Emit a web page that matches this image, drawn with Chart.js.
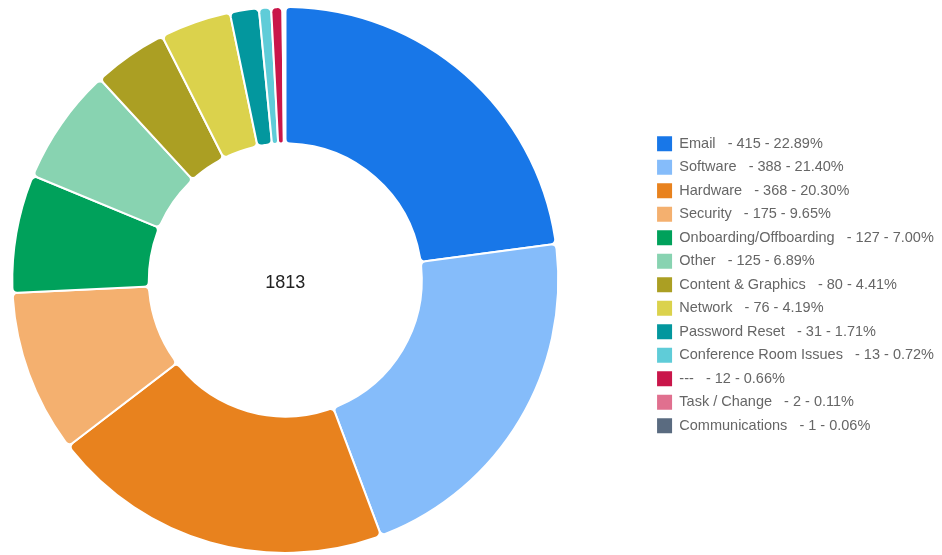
<!DOCTYPE html>
<html>
<head>
<meta charset="utf-8">
<script src="https://cdn.jsdelivr.net/npm/chart.js@4.4.1/dist/chart.umd.min.js"></script>
<style>
  html, body { margin: 0; padding: 0; background: #fff; }
  #frame { width: 942px; height: 555px; position: relative; overflow: hidden; }
  /* canvas box is a bit wider than the frame so the ring sits further left */
  #wrap { position: absolute; left: -78px; top: 0; width: 1022px; height: 555px; }
</style>
</head>
<body>
<div id="frame"><div id="wrap"><canvas id="ticketsDoughnut"></canvas></div></div>
<script>
// ticket counts per category
const categories = ['Email', 'Software', 'Hardware', 'Security', 'Onboarding/Offboarding', 'Other',
    'Content & Graphics', 'Network', 'Password Reset', 'Conference Room Issues', '---',
    'Task / Change', 'Communications'];
const ticketCounts = [415, 388, 368, 175, 127, 125, 80, 76, 31, 13, 12, 2, 1];
const sliceColors = ['#1877e8', '#85bcfa', '#e8821e', '#f4b06f', '#00a15b', '#88d3b1',
    '#ab9f23', '#dbd24c', '#03979e', '#5fccd8', '#c9164a', '#e0708f', '#5a6b80'];

const total = ticketCounts.reduce((a, b) => a + b, 0);

// total in the middle of the ring
const centerTotal = {
    id: 'centerTotal',
    afterDatasetsDraw(chart) {
        const arc = chart.getDatasetMeta(0).data[0];
        if (!arc) return;
        const ctx = chart.ctx;
        ctx.save();
        ctx.font = '18px "Liberation Sans", Arial, sans-serif';
        ctx.fillStyle = '#222';
        ctx.textAlign = 'center';
        ctx.textBaseline = 'middle';
        ctx.fillText(String(total), arc.x, arc.y + 3);
        ctx.restore();
    }
};

const ctx = document.getElementById('ticketsDoughnut').getContext('2d');
const chart = new Chart(ctx, {
    type: 'doughnut',
    data: {
        labels: categories,
        datasets: [{
            data: ticketCounts,
            backgroundColor: sliceColors,
            borderColor: '#fff',
            borderWidth: 2,
            borderRadius: 5
        }]
    },
    options: {
        responsive: true,
        maintainAspectRatio: false,
        animation: false,
        cutout: '50%',
        layout: {
            padding: { left: 0, top: 6, bottom: 1, right: 0 }
        },
        plugins: {
            tooltip: { enabled: false },
            legend: {
                position: 'right',
                title: { display: true, text: '', padding: 0, font: { size: 8 } },
                labels: {
                    boxWidth: 15,
                    boxHeight: 15,
                    padding: 8.5,
                    useBorderRadius: true,
                    borderRadius: 3,
                    color: '#666',
                    font: { family: '"Liberation Sans", Arial, sans-serif', size: 14.5 },
                    generateLabels(chart) {
                        return categories.map((name, i) => ({
                            text: name + '   - ' + ticketCounts[i] + ' - ' + (ticketCounts[i] / total * 100).toFixed(2) + '%',
                            fillStyle: sliceColors[i],
                            strokeStyle: sliceColors[i],
                            fontColor: '#666',
                            lineWidth: 0,
                            hidden: false,
                            index: i
                        }));
                    }
                }
            }
        }
    },
    plugins: [centerTotal]
});
</script>
</body>
</html>
